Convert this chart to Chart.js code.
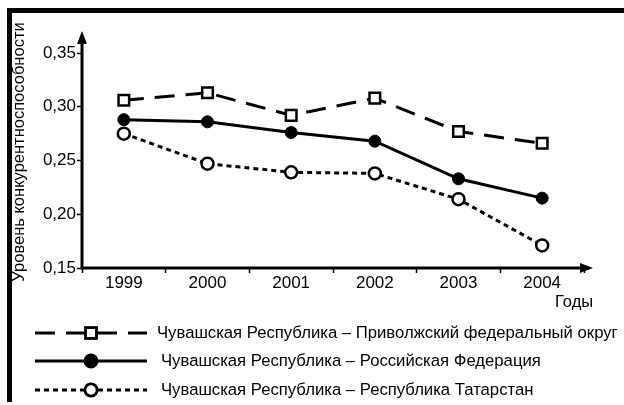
<!doctype html>
<html lang="ru">
  <head>
    <meta charset="UTF-8" />
    <title>Уровень конкурентноспособности</title>
    <script src="https://cdn.jsdelivr.net/npm/chart.js"></script>
    <style>
      body {
        margin: 0;
        padding: 0;
        background-color: #ffffff;
      }
      .chart-container {
        position: relative;
        width: 624px;
        height: 405px;
      }
    </style>
  </head>
  <body>
    <div class="chart-container">
      <canvas id="lineChart"></canvas>
    </div>

    <script>
      const years = ['1999', '2000', '2001', '2002', '2003', '2004'];
      const seriesNames = [
        'Чувашская Республика – Приволжский федеральный округ',
        'Чувашская Республика – Российская Федерация',
        'Чувашская Республика – Республика Татарстан',
      ];
      const pfoValues = [0.306, 0.313, 0.292, 0.308, 0.277, 0.266];
      const rfValues = [0.288, 0.286, 0.276, 0.268, 0.233, 0.215];
      const rtValues = [0.275, 0.247, 0.239, 0.238, 0.214, 0.171];
      const yTicks = [0.15, 0.2, 0.25, 0.3, 0.35];
      const yTitle = 'Уровень конкурентноспособности';

      const FONT = '"Liberation Sans", Arial, sans-serif';

      // thick frame bars, axes with arrows, axis captions and legend
      const decorations = {
        id: 'decorations',
        afterDraw(chart) {
          const ctx = chart.ctx;
          const area = chart.chartArea;
          const x0 = area.left;
          const y0 = area.bottom;
          ctx.save();

          // frame (top and left only)
          ctx.fillStyle = '#000';
          ctx.fillRect(7, 8, chart.width - 7, 5);
          ctx.fillRect(7, 8, 5, chart.height - 11);

          // axes
          ctx.strokeStyle = '#000';
          ctx.lineWidth = 3;
          ctx.setLineDash([]);
          ctx.beginPath();
          ctx.moveTo(x0, y0);
          ctx.lineTo(x0, 40);
          ctx.moveTo(x0 - 1, y0);
          ctx.lineTo(585, y0);
          ctx.stroke();
          ctx.beginPath();
          ctx.moveTo(x0, 31);
          ctx.lineTo(x0 - 5, 44);
          ctx.lineTo(x0 + 5, 44);
          ctx.closePath();
          ctx.moveTo(593, y0);
          ctx.lineTo(580, y0 - 5);
          ctx.lineTo(580, y0 + 5);
          ctx.closePath();
          ctx.fill();

          // axis captions
          ctx.font = '16.5px ' + FONT;
          ctx.textBaseline = 'middle';
          ctx.textAlign = 'left';
          ctx.fillText('Годы', 555, 302);

          ctx.save();
          ctx.translate(19, 152);
          ctx.rotate(-Math.PI / 2);
          ctx.textAlign = 'center';
          ctx.fillText(yTitle, 0, 0);
          ctx.restore();

          // legend
          const rows = [333, 361, 390];
          chart.data.datasets.forEach((ds, i) => {
            const y = rows[i];
            ctx.strokeStyle = '#000';
            ctx.lineWidth = ds.borderWidth;
            ctx.setLineDash(ds.borderDash || []);
            ctx.beginPath();
            ctx.moveTo(35, y);
            ctx.lineTo(147, y);
            ctx.stroke();
            ctx.setLineDash([]);
            Chart.helpers.drawPoint(
              ctx,
              {
                pointStyle: ds.pointStyle,
                radius: ds.pointRadius,
                borderWidth: ds.pointBorderWidth,
                rotation: 0,
              },
              91,
              y,
            );
            ctx.fillStyle = ds.pointBackgroundColor;
            ctx.strokeStyle = '#000';
            ctx.lineWidth = ds.pointBorderWidth;
            ctx.fill();
            ctx.stroke();
            ctx.fillStyle = '#000';
            ctx.font = '16.7px ' + FONT;
            ctx.textAlign = 'left';
            ctx.fillText(ds.label, i === 0 ? 157 : 161, y);
          });
          ctx.restore();
        },
      };

      const ctx = document.getElementById('lineChart').getContext('2d');

      const chart = new Chart(ctx, {
        type: 'line',
        data: {
          labels: years,
          datasets: [
            {
              label: seriesNames[0],
              data: pfoValues,
              borderColor: '#000',
              borderWidth: 3,
              borderDash: [20, 11],
              pointStyle: 'rect',
              pointRadius: 7.5,
              pointBorderWidth: 2.5,
              pointBackgroundColor: '#fff',
              pointBorderColor: '#000',
            },
            {
              label: seriesNames[1],
              data: rfValues,
              borderColor: '#000',
              borderWidth: 3,
              borderDash: [],
              pointStyle: 'circle',
              pointRadius: 6,
              pointBorderWidth: 1,
              pointBackgroundColor: '#000',
              pointBorderColor: '#000',
            },
            {
              label: seriesNames[2],
              data: rtValues,
              borderColor: '#000',
              borderWidth: 3,
              borderDash: [5, 4],
              pointStyle: 'circle',
              pointRadius: 6,
              pointBorderWidth: 2.5,
              pointBackgroundColor: '#fff',
              pointBorderColor: '#000',
            },
          ],
        },
        options: {
          responsive: true,
          maintainAspectRatio: false,
          animation: false,
          layout: { padding: { top: 53, right: 40, bottom: 0, left: 0 } },
          plugins: {
            legend: { display: false },
            tooltip: { enabled: false },
          },
          scales: {
            x: {
              offset: true,
              border: { display: false },
              grid: {
                offset: true,
                drawOnChartArea: false,
                tickLength: 5,
                tickWidth: 1.5,
                tickColor: '#000',
              },
              ticks: {
                color: '#000',
                padding: 0,
                maxRotation: 0,
                font: { family: FONT, size: 17 },
              },
              afterFit(scale) {
                scale.height = 137;
              },
            },
            y: {
              min: 0.15,
              max: 0.35,
              border: { display: false },
              grid: {
                drawOnChartArea: false,
                tickLength: 5,
                tickWidth: 1.5,
                tickColor: '#000',
              },
              afterBuildTicks(scale) {
                scale.ticks = yTicks.map((v) => ({ value: v }));
              },
              ticks: {
                color: '#000',
                padding: 1,
                font: { family: FONT, size: 17 },
                callback: (v) => v.toFixed(2).replace('.', ','),
              },
              afterFit(scale) {
                scale.width = 82;
              },
            },
          },
        },
        plugins: [decorations],
      });
    </script>
  </body>
</html>
